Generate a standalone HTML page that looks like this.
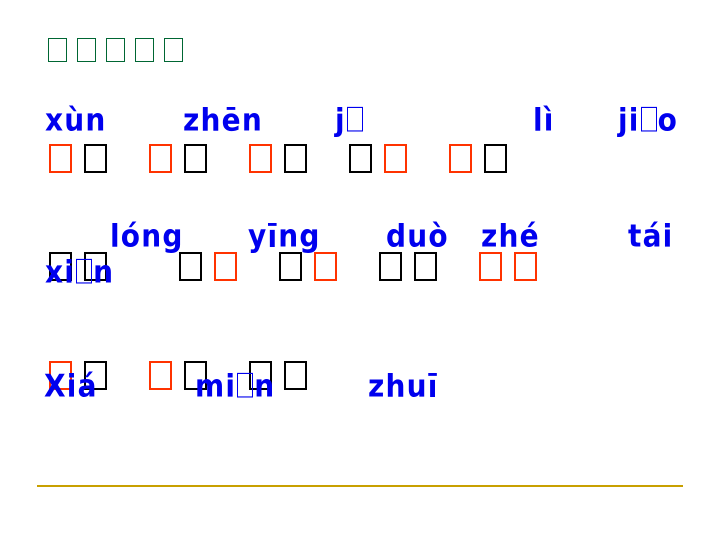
<!DOCTYPE html>
<html><head><meta charset="utf-8"><style>
body{margin:0;width:720px;height:540px;background:#fff;position:relative;overflow:hidden}
.b{position:absolute;box-sizing:border-box;width:23px;height:29px;border:2px solid #000}
.r{border-color:#ff3300}
.g{position:absolute;box-sizing:border-box;width:19px;height:24px;border:1.5px solid #006633;top:38px}
.p{position:absolute;font-family:"DejaVu Sans",sans-serif;font-weight:bold;font-size:28px;letter-spacing:1.2px;color:#0000ee;line-height:1;white-space:nowrap;transform:scaleY(1.12);transform-origin:0 100%}
.t{display:inline-block;box-sizing:border-box;width:16px;height:22px;border:1.3px solid #0000ee;vertical-align:-1px;margin:0 1px}
.line{position:absolute;left:37px;top:485px;width:646px;height:2px;background:#c8a000}
</style></head><body>
<div>
<span class="g" style="left:48px"></span>
<span class="g" style="left:77px"></span>
<span class="g" style="left:106px"></span>
<span class="g" style="left:135px"></span>
<span class="g" style="left:164px"></span>
</div>
<div class="p" style="left:45px;top:108px">xùn</div>
<div class="p" style="left:183px;top:108px">zhēn</div>
<div class="p" style="left:335px;top:108px">j<span class="t"></span></div>
<div class="p" style="left:533px;top:108px">lì</div>
<div class="p" style="left:618px;top:108px">ji<span class="t"></span>o</div>
<div class="b r" style="left:49px;top:144px"></div>
<div class="b" style="left:84px;top:144px"></div>
<div class="b r" style="left:149px;top:144px"></div>
<div class="b" style="left:184px;top:144px"></div>
<div class="b r" style="left:249px;top:144px"></div>
<div class="b" style="left:284px;top:144px"></div>
<div class="b" style="left:349px;top:144px"></div>
<div class="b r" style="left:384px;top:144px"></div>
<div class="b r" style="left:449px;top:144px"></div>
<div class="b" style="left:484px;top:144px"></div>
<div class="b" style="left:49px;top:252px"></div>
<div class="b" style="left:84px;top:252px"></div>
<div class="b" style="left:179px;top:252px"></div>
<div class="b r" style="left:214px;top:252px"></div>
<div class="b" style="left:279px;top:252px"></div>
<div class="b r" style="left:314px;top:252px"></div>
<div class="b" style="left:379px;top:252px"></div>
<div class="b" style="left:414px;top:252px"></div>
<div class="b r" style="left:479px;top:252px"></div>
<div class="b r" style="left:514px;top:252px"></div>
<div class="p" style="left:110px;top:224px">lóng</div>
<div class="p" style="left:248px;top:224px">yīng</div>
<div class="p" style="left:386px;top:224px">duò</div>
<div class="p" style="left:481px;top:224px">zhé</div>
<div class="p" style="left:628px;top:224px">tái</div>
<div class="p" style="left:45px;top:260px">xi<span class="t"></span>n</div>
<div class="b r" style="left:49px;top:361px"></div>
<div class="b" style="left:84px;top:361px"></div>
<div class="b r" style="left:149px;top:361px"></div>
<div class="b" style="left:184px;top:361px"></div>
<div class="b" style="left:249px;top:361px"></div>
<div class="b" style="left:284px;top:361px"></div>
<div class="p" style="left:44px;top:374px">Xiá</div>
<div class="p" style="left:195px;top:374px">mi<span class="t"></span>n</div>
<div class="p" style="left:368px;top:374px">zhuī</div>
<div class="line"></div>
</body></html>
